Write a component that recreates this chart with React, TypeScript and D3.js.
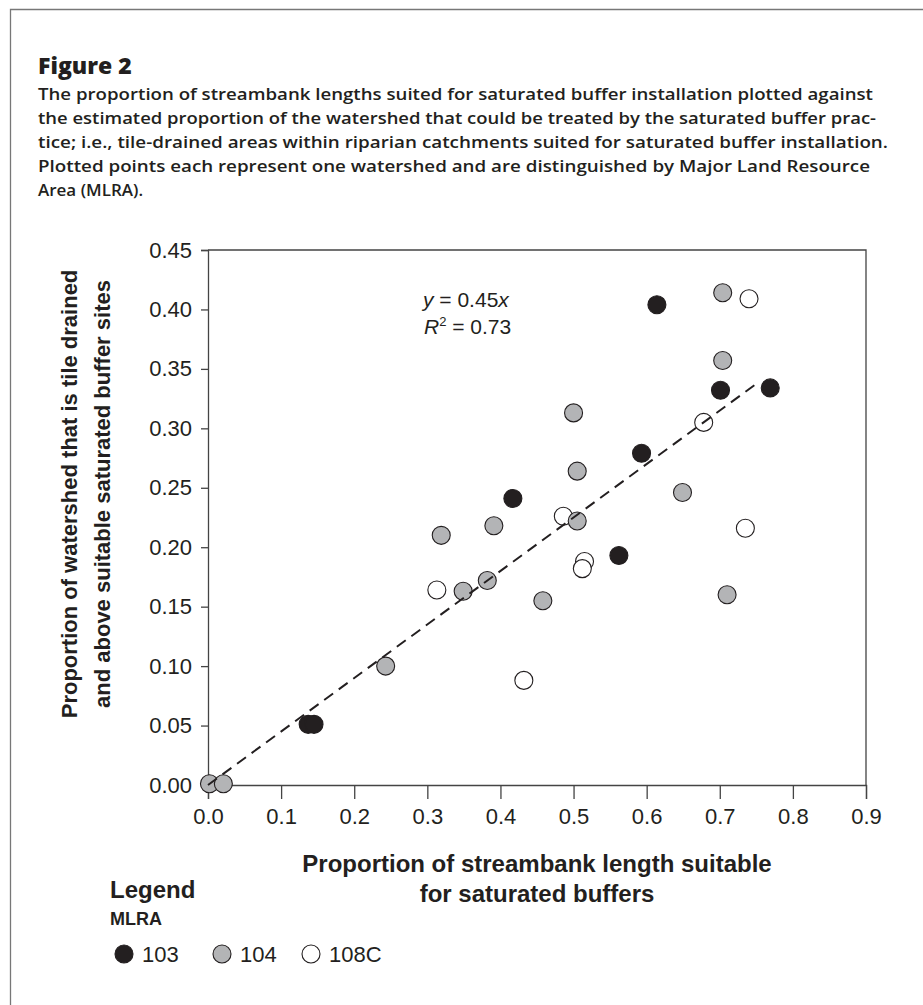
import React, { useEffect, useRef } from "react";
import * as d3 from "d3";

// MLRA groups, x = proportion of streambank length, y = proportion of watershed
const groups = ["103", "104", "108C"];
const fills = ["#231f20", "#b3b4b6", "#ffffff"];

const x103 = [0.614, 0.701, 0.769, 0.593, 0.562, 0.417, 0.137, 0.145];
const y103 = [0.404, 0.332, 0.334, 0.279, 0.193, 0.241, 0.051, 0.051];

const x104 = [0.704, 0.704, 0.5, 0.505, 0.649, 0.505, 0.71, 0.391, 0.319, 0.349, 0.382, 0.458, 0.243, 0.002, 0.021];
const y104 = [0.414, 0.357, 0.313, 0.264, 0.246, 0.222, 0.16, 0.218, 0.21, 0.163, 0.172, 0.155, 0.1, 0.001, 0.001];

const x108C = [0.74, 0.678, 0.486, 0.735, 0.515, 0.512, 0.313, 0.432];
const y108C = [0.409, 0.305, 0.226, 0.216, 0.188, 0.182, 0.164, 0.088];

const xTicks = [0, 0.1, 0.2, 0.3, 0.4, 0.5, 0.6, 0.7, 0.8, 0.9];
const yTicks = [0, 0.05, 0.1, 0.15, 0.2, 0.25, 0.3, 0.35, 0.4, 0.45];

const slope = 0.45;
const fitEnd = 0.755;

const caption = [
  "The proportion of streambank lengths suited for saturated buffer installation plotted against",
  "the estimated proportion of the watershed that could be treated by the saturated buffer prac-",
  "tice; i.e., tile-drained areas within riparian catchments suited for saturated buffer installation.",
  "Plotted points each represent one watershed and are distinguished by Major Land Resource",
  "Area (MLRA).",
];
const captionWidths = [835, 838, 850, 832, null];

const W = 923;
const H = 1005;
const left = 208, right = 866, top = 250, bottom = 785;
const ink = "#231f20";
const sans = "'Liberation Sans', Arial, sans-serif";

const App = () => {
  const xAxisRef = useRef(null);
  const yAxisRef = useRef(null);

  const x = d3.scaleLinear().domain([0, 0.9]).range([left, right]);
  const y = d3.scaleLinear().domain([0, 0.45]).range([bottom, top]);

  useEffect(() => {
    const gx = d3.select(xAxisRef.current);
    gx.call(
      d3.axisBottom(x).tickValues(xTicks).tickFormat(d3.format(".1f")).tickSize(14).tickPadding(9)
    );
    const gy = d3.select(yAxisRef.current);
    gy.call(
      d3.axisLeft(y).tickValues(yTicks).tickFormat(d3.format(".2f")).tickSize(7).tickPadding(9)
    );
    [gx, gy].forEach(g => {
      g.select(".domain").attr("stroke", "#444").attr("stroke-width", 1.3);
      g.selectAll(".tick line").attr("stroke", "#444").attr("stroke-width", 1.3);
      g.selectAll(".tick text")
        .attr("fill", ink)
        .style("font-family", sans)
        .style("font-size", "22px");
      g.attr("font-family", null).attr("font-size", null);
    });
  }, []);

  const series = [
    { name: "108C", xs: x108C, ys: y108C },
    { name: "104", xs: x104, ys: y104 },
    { name: "103", xs: x103, ys: y103 },
  ];
  const color = d3.scaleOrdinal<string, string>().domain(groups).range(fills);

  const fitLine = d3
    .line<number>()
    .x(d => x(d))
    .y(d => y(slope * d));

  const legendX = [124, 222, 311];

  return (
    <svg
      width={W}
      height={H}
      style={{ position: "absolute", left: 0, top: 0, background: "#fff" }}
    >
      {/* corner rule */}
      <path d={`M10.5,${H} V9.5 H${W}`} fill="none" stroke="#777" strokeWidth={1.3} />

      <text x={38} y={74} fill={ink} style={{ fontFamily: "'Open Sans', sans-serif", fontWeight: 800, fontSize: 23 }}>
        Figure 2
      </text>
      {caption.map((line, i) => (
        <text
          key={i}
          x={38}
          y={100 + i * 24}
          fill={ink}
          textLength={captionWidths[i] ?? undefined}
          lengthAdjust="spacingAndGlyphs"
          style={{ fontFamily: "'Open Sans', sans-serif", fontWeight: 600, fontSize: 17 }}
        >
          {line}
        </text>
      ))}

      {/* plot frame */}
      <path d={`M${left},${top} H${right} V${bottom}`} fill="none" stroke="#444" strokeWidth={1.3} />
      <g ref={xAxisRef} transform={`translate(0,${bottom})`} />
      <g ref={yAxisRef} transform={`translate(${left},0)`} />

      {series.map(s => (
        <g key={s.name}>
          {s.xs.map((v, i) => (
            <circle
              key={i}
              cx={x(v)}
              cy={y(s.ys[i])}
              r={9}
              fill={color(s.name)}
              stroke={ink}
              strokeWidth={1.1}
            />
          ))}
        </g>
      ))}

      <path
        d={fitLine([0, fitEnd]) ?? ""}
        fill="none"
        stroke={ink}
        strokeWidth={2}
        strokeDasharray="11,7"
      />

      <g style={{ fontFamily: sans, fontSize: 21 }} fill={ink}>
        <text x={423} y={307}>
          <tspan fontStyle="italic">y</tspan> = 0.45<tspan fontStyle="italic">x</tspan>
        </text>
        <text x={424} y={334}>
          <tspan fontStyle="italic">R</tspan>
          <tspan fontSize={13} dy={-8}>2</tspan>
          <tspan dy={8}> = 0.73</tspan>
        </text>
      </g>

      {/* axis titles */}
      <g style={{ fontFamily: sans, fontWeight: 700, fontSize: 24 }} fill={ink} textAnchor="middle">
        <text x={(left + right) / 2} y={872}>Proportion of streambank length suitable</text>
        <text x={(left + right) / 2} y={902}>for saturated buffers</text>
      </g>
      <g style={{ fontFamily: sans, fontWeight: 700, fontSize: 22 }} fill={ink} textAnchor="middle">
        <text transform="translate(77,494) rotate(-90)">Proportion of watershed that is tile drained</text>
        <text transform="translate(110,494) rotate(-90)">and above suitable saturated buffer sites</text>
      </g>

      {/* legend */}
      <text x={110} y={898} fill={ink} style={{ fontFamily: sans, fontWeight: 700, fontSize: 24 }}>
        Legend
      </text>
      <text x={110} y={925} fill={ink} style={{ fontFamily: sans, fontWeight: 700, fontSize: 18 }}>
        MLRA
      </text>
      {groups.map((g, i) => (
        <g key={g} transform={`translate(${legendX[i]},954)`}>
          <circle r={9} fill={color(g)} stroke={ink} strokeWidth={1.1} />
          <text x={18} y={8} fill={ink} style={{ fontFamily: sans, fontSize: 22 }}>
            {g}
          </text>
        </g>
      ))}
    </svg>
  );
};

export default App;
